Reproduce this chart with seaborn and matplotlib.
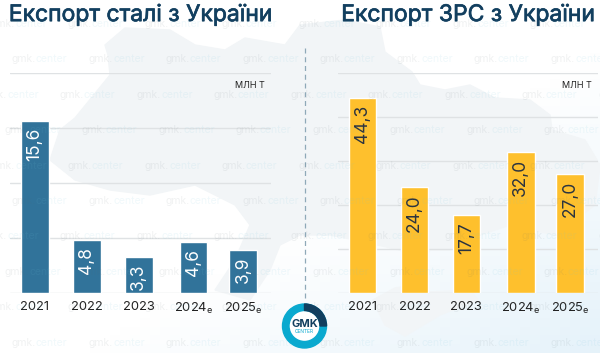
import numpy as np
import pandas as pd
import matplotlib
matplotlib.use("Agg")
import matplotlib.pyplot as plt
import matplotlib.patheffects as pe
import seaborn as sns
from matplotlib.patches import Circle, Polygon, Wedge

YEARS = ["2021", "2022", "2023", "2024e", "2025e"]
YEAR_LABELS = ["2021", "2022", "2023", r"2024$\mathregular{_e}$", r"2025$\mathregular{_e}$"]
STEEL = [15.6, 4.8, 3.3, 4.6, 3.9]
SCRAP = [44.3, 24.0, 17.7, 32.0, 27.0]

W, H = 600, 353
NAVY = "#123f5f"
MAP_COLOR = "#f2f5f7"

sns.set_theme(style="white")
plt.rcParams["font.family"] = ["Inter", "DejaVu Sans"]

fig = plt.figure(figsize=(W / 100, H / 100), dpi=100, facecolor="white")


def px_axes(left, top, right, bottom):
    return fig.add_axes([left / W, 1 - bottom / H, (right - left) / W, (bottom - top) / H])


def full_layer(zorder):
    layer = fig.add_axes([0, 0, 1, 1], zorder=zorder)
    layer.set_xlim(0, W)
    layer.set_ylim(H, 0)
    layer.axis("off")
    layer.patch.set_alpha(0)
    return layer


# background: pale gradient and the map of Ukraine
bg = full_layer(-1)
xx, yy = np.meshgrid(np.linspace(0, 1, 60), np.linspace(0, 1, 40))
glow = np.clip((xx + yy - 1.15) / 0.85, 0, 1)[..., None]
bg.imshow(1 - glow * np.array([0.10, 0.05, 0.02]), extent=(0, W, H, 0), aspect="auto", zorder=0)
bg.set_xlim(0, W)
bg.set_ylim(H, 0)
mainland = [(50, 160), (60, 130), (75, 118), (110, 75), (108, 55), (105, 45), (125, 28), (170, 30),
            (195, 45), (225, 50), (245, 38), (285, 45), (300, 25), (345, 20), (380, 27), (385, 52),
            (412, 72), (420, 85), (445, 90), (470, 85), (495, 98), (530, 100), (550, 115), (552, 130),
            (585, 140), (600, 165), (595, 205), (555, 235), (510, 225), (480, 235), (450, 250),
            (430, 250), (420, 268), (400, 250), (355, 240), (330, 235), (300, 235), (280, 245),
            (270, 270), (250, 300), (215, 290), (235, 260), (250, 225), (235, 205), (195, 185),
            (150, 195), (110, 190), (75, 180)]
crimea = [(373, 300), (395, 288), (415, 285), (430, 292), (470, 290), (478, 300), (440, 315),
          (405, 336), (385, 325)]
bg.add_patch(Polygon(mainland, color=MAP_COLOR, zorder=1))
bg.add_patch(Polygon(crimea, color=MAP_COLOR, zorder=1))


def bar_panel(ax, values, title, color, label_color, ymax, step):
    data = pd.DataFrame({"year": YEARS, "value": values})
    sns.barplot(data=data, x="year", y="value", color=color, saturation=1, width=0.53, ax=ax)
    bars = ax.containers[0]
    # the 2024 column sits slightly right of the even spacing
    bars[3].set_x(bars[3].get_x() + 0.05)
    for bar, v in zip(bars, values):
        ax.annotate(f"{v:.1f}".replace(".", ","), (bar.get_x() + bar.get_width() / 2, v),
                    xytext=(0, -5), textcoords="offset points", rotation=90,
                    ha="center", va="top", fontsize=12.5, color=label_color)
    ax.set_xticks([0, 1, 2, 3.05, 4], YEAR_LABELS, fontsize=9.3, color="#222222")
    ax.set_xlim(-0.477, 4.54)
    ax.set_ylim(0, ymax)
    ax.set_yticks(np.arange(0, ymax + step, step), [])
    ax.set_xlabel("")
    ax.set_ylabel("")
    ax.grid(axis="y", color="#dfe2e4", lw=1)
    ax.set_axisbelow(True)
    ax.patch.set_alpha(0)
    sns.despine(ax=ax, left=True, right=True, top=True, bottom=True)
    ax.tick_params(axis="both", length=0, pad=5.5)
    ax.set_title(title, fontsize=16.5, color=NAVY, pad=37,
                 path_effects=[pe.withStroke(linewidth=0.5, foreground=NAVY)])
    ax.text(0.975, 0.94, "МЛН Т", transform=ax.transAxes, ha="right", va="center",
            fontsize=6.5, color="#222222")


ax_left = px_axes(10, 72.5, 271, 293)
bar_panel(ax_left, STEEL, "Експорт сталі з України", "#31739a", "white", 20, 5)
ax_right = px_axes(338, 72.5, 598, 293)
bar_panel(ax_right, SCRAP, "Експорт ЗРС з України", "#fec02d", "#2b3440", 50, 10)

# overlay: watermarks, divider, logo
top = full_layer(5)
offsets = [22, 43, 14, 36]
for row in range(10):
    y = 24 + row * 35.4
    for col in range(-1, 9):
        x = offsets[row % 4] + col * 77
        if x + 30 < 0 or x - 30 > W:
            continue
        top.text(x - 7, y, "gmk.", ha="right", va="center", fontsize=7.5, color="#5a6a70", alpha=0.09,
                 clip_on=True)
        top.text(x - 7, y, "center", ha="left", va="center", fontsize=7.5, color="#6fc3dc", alpha=0.1,
                 clip_on=True)

top.plot([304.5, 304.5], [48, 298], color="#8fa9b8", lw=0.9, ls=(0, (4, 3)))
cx, cy = 304.5, 326
top.add_patch(Circle((cx, cy), 22, color="white", zorder=3))
top.add_patch(Wedge((cx, cy), 22, 0, 360, width=6.5, color="#0aa9cf", zorder=4))
# y axis is inverted here, so these angles give the upper right quarter
top.add_patch(Wedge((cx, cy), 22, 270, 360, width=6.5, color=NAVY, zorder=5))
top.text(cx, cy - 2, "GMK", ha="center", va="center", fontsize=8, fontweight="bold", color=NAVY, zorder=6)
top.text(cx, cy + 5.5, "CENTER", ha="center", va="center", fontsize=3.5, color="#0aa9cf", zorder=6)

fig.savefig("out.png", dpi=100)
